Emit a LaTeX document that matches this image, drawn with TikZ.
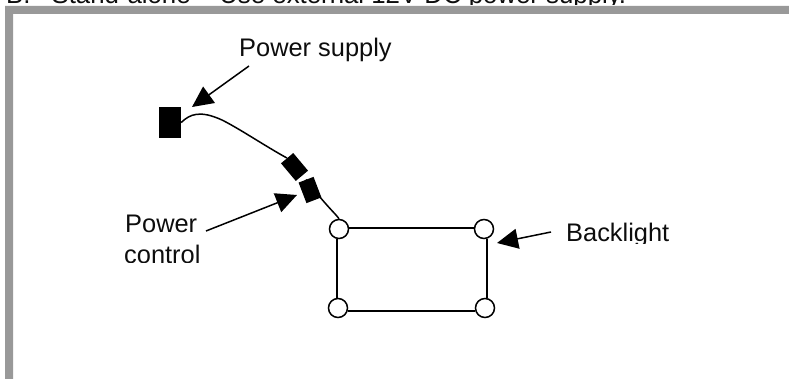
\documentclass[tikz,border=0pt]{standalone}
\usepackage{fontspec}
\setmainfont{Liberation Sans}
\usetikzlibrary{arrows.meta}
\tikzset{
  lbl/.style={anchor=base west,inner sep=0pt,font=\fontsize{25.4}{30}\selectfont,text=black!95},
  plug/.style={fill=black,draw=none,inner sep=0pt,minimum width=#1,minimum height=16pt},
  lamp/.style={circle,draw=black,line width=1.5pt,fill=white,inner sep=0pt,minimum size=19pt},
  wire/.style={line width=1.5pt,black},
  pointer/.style={line width=1.5pt,black,-{Triangle[length=21pt,width=20pt]}}
}
\begin{document}
\begin{tikzpicture}[x=1pt,y=-1pt]
\useasboundingbox (0,0) rectangle (789,379);
% frame
\fill[black!40] (5,379) -- (5,6) -- (789,6) -- (789,14) -- (13,14) -- (13,379) -- cycle;
% heading, cropped at the top edge
\begin{scope}
\clip (0,0) rectangle (789,5);
\node[lbl,font=\fontsize{25.8}{30}\selectfont] (head) at (6,4) {B.\hspace{21pt}Stand-alone -- Use external 12V DC power supply.};
\end{scope}
% labels
\node[lbl] (ps) at (239,57) {Power supply};
\node[lbl] (pc1) at (125,233) {Power};
\begin{scope}
\clip (100,240) rectangle (260,262);
\node[lbl] (pc2) at (124,263) {control};
\end{scope}
\begin{scope}
\clip (550,200) rectangle (700,243.5);
\node[lbl] (bl) at (566,242) {Backlight};
\end{scope}
% connectors
\node[fill=black,inner sep=0pt,minimum width=22pt,minimum height=31pt] (jack) at (170,122.5) {};
\node[plug=23pt,rotate=-50] (plugA) at (294.5,167) {};
\node[plug=22pt,rotate=-69] (plugB) at (310,190) {};
% lamps
\node[lamp] (tl) at (339,229) {};
\node[lamp] (tr) at (484,229) {};
\node[lamp] (bl2) at (338,308) {};
\node[lamp] (br) at (485,308) {};
% wires
\draw[wire] (jack.east) .. controls (190,114) and (200,110) .. (222,120) .. controls (240,129) and (265,146) .. (plugA.west);
\draw[wire] (plugB.west) .. controls (327,207) and (335,213) .. (tl.north);
\draw[wire] ([yshift=1pt]tl.east) -- ([yshift=1pt]tr.west);
\draw[wire] ([xshift=3pt]tr.south) -- ([xshift=2pt]br.north);
\draw[wire] ([yshift=-3pt]bl2.east) -- ([yshift=-3pt]br.west);
\draw[wire] ([xshift=-2pt]tl.south) -- ([xshift=-1pt]bl2.north);
% pointers
\coordinate (psT) at (249,66);
\coordinate (psH) at (192,107);
\coordinate (pcT) at (206,231);
\coordinate (pcH) at (297,195);
\coordinate (blT) at (551,232);
\coordinate (blH) at (497,243);
\draw[pointer] (psT) -- (psH);
\draw[pointer] (pcT) -- (pcH);
\draw[pointer] (blT) -- (blH);
\end{tikzpicture}
\end{document}
